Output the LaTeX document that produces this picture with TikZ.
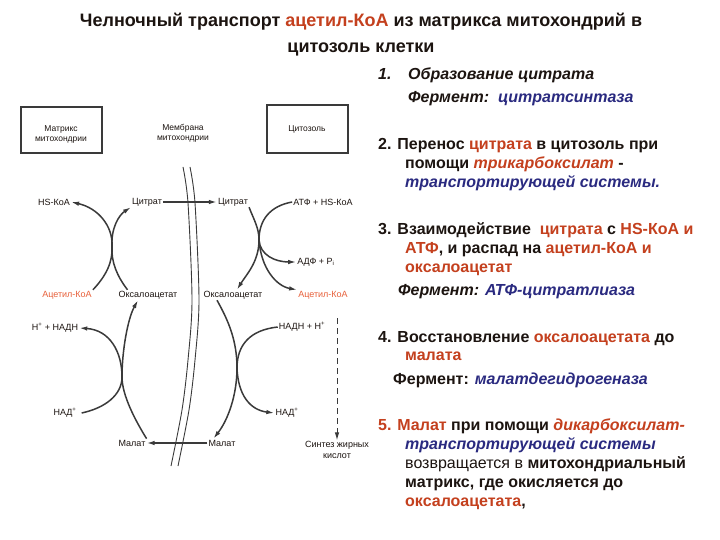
\documentclass[tikz,border=0pt]{standalone}
\usepackage{fontspec}
\setmainfont{Liberation Sans}
\usetikzlibrary{arrows.meta}
\definecolor{ink}{HTML}{1C1410}
\definecolor{rd}{HTML}{C4401E}
\definecolor{bl}{HTML}{2A2A80}
\definecolor{sal}{HTML}{E8603A}
\definecolor{ln}{HTML}{3A3A3A}
\begin{document}
\begin{tikzpicture}[x=1pt,y=-1pt,
  lbl/.style={font=\fontsize{9}{10.5}\selectfont, inner sep=1pt, text=ink, align=center},
  boxlbl/.style={font=\fontsize{8.5}{10}\selectfont, inner sep=0pt, text=ink, align=center},
  rt/.style={anchor=base west, inner sep=0pt, font=\fontsize{16}{19}\selectfont\bfseries, text=ink},
  ttl/.style={anchor=base, inner sep=0pt, font=\fontsize{18}{26}\selectfont\bfseries, text=ink},
  cur/.style={draw=ln, line width=1.5pt},
  arr/.style={cur, -{Latex[length=8pt,width=4.5pt]}},
  mem/.style={draw=ln, line width=0.9pt}]
\fill[white] (0,0) rectangle (720,540);
\useasboundingbox (0,0) rectangle (720,540);

% title
\node[ttl] (t1) at (361,27) {Челночный транспорт \textcolor{rd}{ацетил-КоА} из матрикса митохондрий в};
\node[ttl] (t2) at (361,53) {цитозоль клетки};

% boxes
\draw[ln, line width=1.8pt] (21,107) rectangle (102,153);
\node[boxlbl] (mtx) at (61,134) {Матрикс\\митохондрии};
\draw[ln, line width=1.8pt] (267,105) rectangle (348,153);
\node[boxlbl] (cyt) at (307,129) {Цитозоль};
\node[boxlbl] (memb) at (183,133) {Мембрана\\митохондрии};

% membrane
\draw[mem] plot[smooth] coordinates {(183,167) (188,203) (192,300) (188,360) (182,410) (171,466)};
\draw[mem] plot[smooth] coordinates {(190,167) (195,203) (199,300) (195,360) (189,410) (178,466)};

% labels
\node[lbl] (hsL) at (54,202) {HS-КоА};
\node[lbl] (citL) at (147,202) {Цитрат};
\node[lbl] (citR) at (233,202) {Цитрат};
\node[lbl] (atpR) at (323,202) {АТФ + HS-КоА};
\node[lbl] (adpR) at (316,262) {АДФ + P\textsubscript{i}};
\node[lbl, text=sal] (acL) at (67,295) {Ацетил-КоА};
\node[lbl] (oaL) at (148,295) {Оксалоацетат};
\node[lbl] (oaR) at (233,295) {Оксалоацетат};
\node[lbl, text=sal] (acR) at (323,295) {Ацетил-КоА};
\node[lbl] (nadhL) at (55,328) {Н\textsuperscript{+} + НАДН};
\node[lbl] (nadhR) at (302,327) {НАДН + Н\textsuperscript{+}};
\node[lbl] (nadL) at (65,413) {НАД\textsuperscript{+}};
\node[lbl] (nadR) at (287,413) {НАД\textsuperscript{+}};
\node[lbl] (malL) at (132,443) {Малат};
\node[lbl] (malR) at (222,443) {Малат};
\node[lbl] (fa) at (337,450) {Синтез жирных\\кислот};

% junctions
\coordinate (J1) at (112,246);
\coordinate (J2) at (259,240);
\coordinate (J3) at (122,377);
\coordinate (J4) at (237,368);
\coordinate (dstart) at (337,318);

% left upper cycle
\draw[arr] (acL.north east) .. controls (106,276) and (113,262) .. (J1) .. controls (113,226) and (98,208) .. (hsL.east);
\draw[arr] ([xshift=10pt]oaL.north west) .. controls (117,276) and (111,262) .. (J1) .. controls (111,228) and (119,215) .. (citL.south west);

% citrate transport
\draw[arr] (citL.east) -- (citR.west);

% right upper cycle
\draw[cur] (citR.south east) .. controls (254,220) and (259,228) .. (J2);
\draw[cur] (atpR.west) .. controls (270,206) and (259,220) .. (J2);
\draw[arr] (J2) .. controls (259,262) and (246,275) .. ([xshift=4pt]oaR.north);
\draw[arr] (J2) .. controls (260,255) and (275,262) .. (adpR.west);
\draw[arr] (J2) .. controls (261,268) and (276,286) .. (acR.north west);

% dashed to fatty acids
\draw[ln, line width=1pt, dash pattern=on 6pt off 4pt, -{Latex[length=8pt,width=4.5pt]}] (dstart) -- (fa.north);

% right lower cycle
\draw[cur] ([xshift=-16pt]oaR.south) .. controls (228,320) and (237,340) .. (J4);
\draw[cur] (nadhR.west) .. controls (250,330) and (237,345) .. (J4);
\draw[arr] (J4) .. controls (237,395) and (228,420) .. ([xshift=6pt]malR.north west);
\draw[arr] (J4) .. controls (238,395) and (250,410) .. (nadR.west);

% malate transport
\draw[arr] (malR.west) -- (malL.east);

% left lower cycle
\draw[cur] ([xshift=4pt]nadL.east) .. controls (105,408) and (122,395) .. (J3);
\draw[cur] (malL.north east) .. controls (135,420) and (122,395) .. (J3);
\draw[arr] (J3) .. controls (122,352) and (110,330) .. (nadhL.east);
\draw[arr] (J3) .. controls (122,350) and (128,318) .. ([xshift=-10pt]oaL.south);

% right text
\node[rt] (r1) at (378,80) {\itshape\makebox[30pt][l]{1.}Образование цитрата};
\node[rt] (r2) at (408,103) {\itshape Фермент:\ \ \textcolor{bl}{цитратсинтаза}};
\node[rt] (r3) at (378,150) {2. Перенос \textcolor{rd}{цитрата} в цитозоль при};
\node[rt] (r4) at (405,169) {помощи \textit{\textcolor{rd}{трикарбоксилат}} -};
\node[rt] (r5) at (405,188) {\textit{\textcolor{bl}{транспортирующей системы.}}};
\node[rt] (r6) at (378,235) {3. Взаимодействие\ \ \textcolor{rd}{цитрата} с \textcolor{rd}{HS-КоА и}};
\node[rt] (r7) at (405,254) {\textcolor{rd}{АТФ}, и распад на \textcolor{rd}{ацетил-КоА и}};
\node[rt] (r8) at (405,272) {\textcolor{rd}{оксалоацетат}};
\node[rt] (r9) at (398,295) {\itshape Фермент: \textcolor{bl}{АТФ-цитратлиаза}};
\node[rt] (r10) at (378,342) {4. Восстановление \textcolor{rd}{оксалоацетата} до};
\node[rt] (r11) at (405,360) {\textcolor{rd}{малата}};
\node[rt] (r12) at (393,384) {Фермент: \textit{\textcolor{bl}{малатдегидрогеназа}}};
\node[rt] (r13) at (378,430) {\textcolor{rd}{5. Малат} при помощи \textit{\textcolor{rd}{дикарбоксилат-}}};
\node[rt] (r14) at (405,449) {\textit{\textcolor{bl}{транспортирующей системы}}};
\node[rt] (r15) at (405,468) {{\mdseries возвращается в} митохондриальный};
\node[rt] (r16) at (405,487) {матрикс, где окисляется до};
\node[rt] (r17) at (405,506) {\textcolor{rd}{оксалоацетата},};
\end{tikzpicture}
\end{document}
